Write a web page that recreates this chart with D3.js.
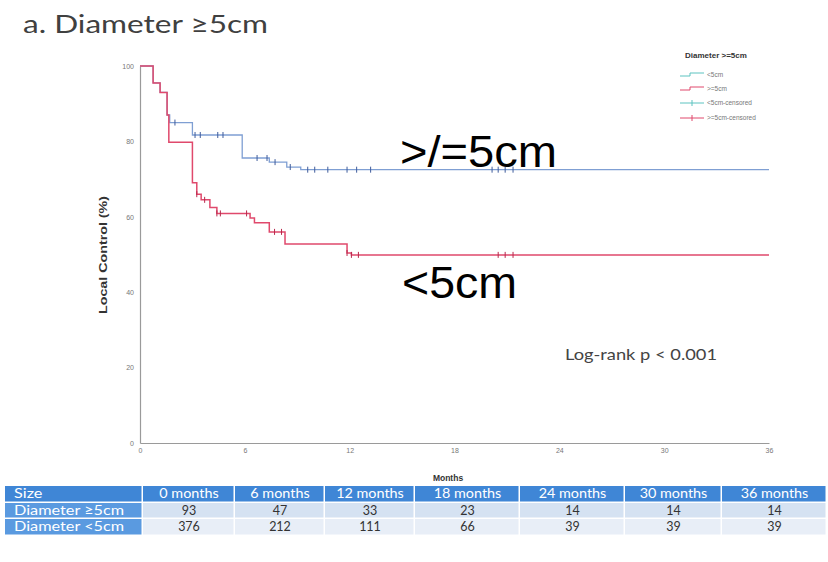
<!DOCTYPE html>
<html>
<head>
<meta charset="utf-8">
<script src="https://cdn.jsdelivr.net/npm/d3@7"></script>
<style>
  body { margin: 0; background: #fff; }
  svg { display: block; }
</style>
</head>
<body>
<script>
// tick values
var xTicks = [0, 6, 12, 18, 24, 30, 36];
var yTicks = [0, 20, 40, 60, 80, 100];

// Kaplan-Meier steps (months, local control %)
var blueTimes = [0, 0.75, 1.15, 1.55, 1.7, 3.0, 5.85, 7.4, 8.4, 9.2, 36];
var blueValues = [100, 95.5, 93, 87, 85, 81.7, 75.6, 74.5, 73.2, 72.5, 72.5];
var blueCensored = [2.0, 3.15, 3.45, 4.45, 4.75, 6.7, 7.27, 7.73, 8.6, 9.6, 10.0, 10.75, 11.85, 12.4, 13.2, 20.15, 20.5, 20.9, 21.35];

var redTimes = [0, 0.75, 1.15, 1.55, 1.65, 3.0, 3.25, 3.5, 4.0, 4.4, 6.3, 6.55, 7.4, 8.3, 11.85, 12.1, 36];
var redValues = [100, 95.5, 93, 87, 79.8, 69, 66, 64.5, 62.5, 60.9, 59.7, 58.4, 56, 52.8, 50.4, 49.9, 49.9];
var redCensored = [3.25, 3.7, 4.4, 4.6, 6.1, 7.7, 8.1, 11.85, 12.1, 12.5, 20.5, 20.9, 21.35];

// number at risk table
var tableHeader = ['Size', '0 months', '6 months', '12 months', '18 months', '24 months', '30 months', '36 months'];
var rowLabels = ['Diameter \u22655cm', 'Diameter <5cm'];
var atRiskGe5 = [93, 47, 33, 23, 14, 14, 14];
var atRiskLt5 = [376, 212, 111, 66, 39, 39, 39];

var legendLabels = ['<5cm', '>=5cm', '<5cm-censored', '>=5cm-censored'];

var W = 828, H = 562;
var blue = '#7f9fd3', blueMark = '#3f5c9c', red = '#e0496c', redMark = '#b8284c', teal = '#5cc3c0';

var svg = d3.select('body').append('svg').attr('width', W).attr('height', H);
svg.append('rect').attr('width', W).attr('height', H).attr('fill', '#fff');

var x = d3.scaleLinear().domain([0, 36]).range([140, 769]);
var y = d3.scaleLinear().domain([0, 100]).range([443, 66]);

// title
svg.append('text')
  .attr('x', 23).attr('y', 33)
  .attr('font-family', 'Lato, "Open Sans", sans-serif')
  .attr('font-size', 25).attr('fill', '#404040')
  .attr('textLength', 245).attr('lengthAdjust', 'spacingAndGlyphs')
  .text('a. Diameter \u22655cm');

// axes
var yAxis = svg.append('g').attr('transform', 'translate(' + x(0) + ',0)')
  .call(d3.axisLeft(y).tickValues(yTicks).tickSize(0).tickPadding(6));
var xAxis = svg.append('g').attr('transform', 'translate(0,' + y(0) + ')')
  .call(d3.axisBottom(x).tickValues(xTicks).tickSize(0).tickPadding(5));
[xAxis, yAxis].forEach(function (a) {
  a.select('.domain').attr('stroke', '#9a9a9a').attr('stroke-width', 1.2);
  a.selectAll('text').attr('font-family', '"Liberation Sans", Arial, sans-serif')
    .attr('font-size', 7).attr('fill', '#777');
});

svg.append('text')
  .attr('transform', 'translate(107,255) rotate(-90)')
  .attr('text-anchor', 'middle')
  .attr('font-family', '"Liberation Sans", Arial, sans-serif')
  .attr('font-size', 10.5).attr('font-weight', 'bold').attr('fill', '#333')
  .attr('textLength', 118).attr('lengthAdjust', 'spacingAndGlyphs')
  .text('Local Control (%)');

svg.append('text')
  .attr('x', 448).attr('y', 481).attr('text-anchor', 'middle')
  .attr('font-family', '"Liberation Sans", Arial, sans-serif')
  .attr('font-size', 8.5).attr('font-weight', 'bold').attr('fill', '#333')
  .text('Months');

// curves
function steps(times, values) {
  return times.map(function (t, i) { return [t, values[i]]; });
}
function valueAt(times, values, t) {
  var i = d3.bisectRight(times, t) - 1;
  return values[Math.max(0, i)];
}
var line = d3.line().x(function (d) { return x(d[0]); }).y(function (d) { return y(d[1]); })
  .curve(d3.curveStepAfter);

svg.append('path').datum(steps(blueTimes, blueValues))
  .attr('d', line).attr('fill', 'none').attr('stroke', blue).attr('stroke-width', 1.3);
svg.append('path').datum(steps(redTimes, redValues))
  .attr('d', line).attr('fill', 'none').attr('stroke', red).attr('stroke-width', 1.5);

svg.append('g').selectAll('line').data(blueCensored).enter().append('line')
  .attr('x1', function (d) { return x(d); }).attr('x2', function (d) { return x(d); })
  .attr('y1', function (d) { return y(valueAt(blueTimes, blueValues, d)) - 3; })
  .attr('y2', function (d) { return y(valueAt(blueTimes, blueValues, d)) + 3; })
  .attr('stroke', blueMark).attr('stroke-width', 1);
svg.append('g').selectAll('line').data(redCensored).enter().append('line')
  .attr('x1', function (d) { return x(d); }).attr('x2', function (d) { return x(d); })
  .attr('y1', function (d) { return y(valueAt(redTimes, redValues, d)) - 3; })
  .attr('y2', function (d) { return y(valueAt(redTimes, redValues, d)) + 3; })
  .attr('stroke', redMark).attr('stroke-width', 1);

// annotations
svg.append('text').attr('x', 400).attr('y', 167)
  .attr('font-family', '"Liberation Sans", Arial, sans-serif').attr('font-size', 44).attr('fill', '#000')
  .attr('textLength', 157).attr('lengthAdjust', 'spacingAndGlyphs')
  .text('>/=5cm');
svg.append('text').attr('x', 402).attr('y', 298)
  .attr('font-family', '"Liberation Sans", Arial, sans-serif').attr('font-size', 44).attr('fill', '#000')
  .attr('textLength', 115).attr('lengthAdjust', 'spacingAndGlyphs')
  .text('<5cm');
svg.append('text').attr('x', 565).attr('y', 360)
  .attr('font-family', 'Lato, "Open Sans", sans-serif').attr('font-size', 16).attr('fill', '#444')
  .attr('textLength', 152).attr('lengthAdjust', 'spacingAndGlyphs')
  .text('Log-rank p < 0.001');

// legend
var lg = svg.append('g');
lg.append('text').attr('x', 685).attr('y', 58)
  .attr('font-family', '"Liberation Sans", Arial, sans-serif').attr('font-size', 8)
  .attr('font-weight', 'bold').attr('fill', '#333').text('Diameter >=5cm');
var legendY = [75, 89, 103, 118];
var legendColors = [teal, red, teal, red];
legendLabels.forEach(function (lab, i) {
  var yy = legendY[i];
  if (i < 2) {
    lg.append('path')
      .attr('d', 'M680,' + (yy + 1) + 'H690V' + (yy - 2) + 'H704')
      .attr('fill', 'none').attr('stroke', legendColors[i]).attr('stroke-width', 1);
  } else {
    lg.append('line').attr('x1', 680).attr('x2', 704).attr('y1', yy).attr('y2', yy)
      .attr('stroke', legendColors[i]).attr('stroke-width', 1);
    lg.append('line').attr('x1', 692).attr('x2', 692).attr('y1', yy - 3).attr('y2', yy + 3)
      .attr('stroke', legendColors[i]).attr('stroke-width', 1);
  }
  lg.append('text').attr('x', 707).attr('y', yy + 2)
    .attr('font-family', '"Liberation Sans", Arial, sans-serif').attr('font-size', 6.5)
    .attr('fill', '#777').text(lab);
});

// table
var colEdges = [5, 143, 235, 325, 415, 520, 625, 722, 827];
var rowEdges = [486, 503, 519, 536];
var tbl = svg.append('g');
var rows = [tableHeader, [rowLabels[0]].concat(atRiskGe5), [rowLabels[1]].concat(atRiskLt5)];
rows.forEach(function (row, r) {
  row.forEach(function (val, c) {
    var x0 = colEdges[c], x1 = colEdges[c + 1], y0 = rowEdges[r], y1 = rowEdges[r + 1];
    var fill = r === 0 ? '#3f86d6' : (c === 0 ? '#5a9ae0' : (r === 1 ? '#d5e2f2' : '#e8eef7'));
    tbl.append('rect').attr('x', x0).attr('y', y0).attr('width', x1 - x0 - 1.5).attr('height', y1 - y0 - 1.5)
      .attr('fill', fill);
    var t = tbl.append('text')
      .attr('y', (y0 + y1) / 2 + 3.5)
      .attr('font-family', 'Lato, "Open Sans", sans-serif')
      .attr('font-size', 12.5)
      .attr('fill', (r === 0 || c === 0) ? '#fff' : '#333')
      .text(val);
    if (c === 0) t.attr('x', x0 + 9);
    else t.attr('x', (x0 + x1) / 2).attr('text-anchor', 'middle');
    // the source picture is stretched sideways: widen header and label texts a bit
    if (r === 0 || c === 0) {
      var len = t.node().getComputedTextLength();
      t.attr('textLength', len * (c === 0 ? 1.3 : 1.15)).attr('lengthAdjust', 'spacingAndGlyphs');
    }
  });
});
</script>
</body>
</html>
